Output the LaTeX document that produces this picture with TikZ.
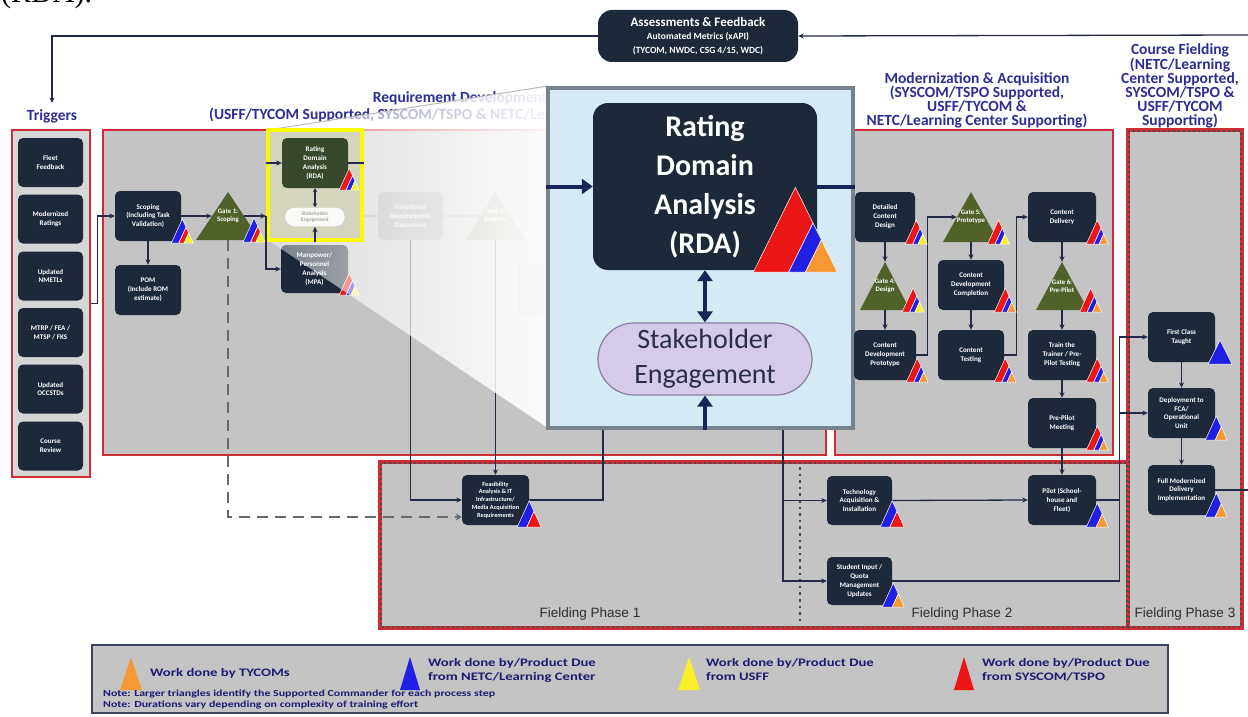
\documentclass[tikz,border=0pt]{standalone}
\usepackage{fontspec}
\setmainfont{Carlito}
\newfontfamily\arialf{Liberation Sans}
\newfontfamily\timesf{Liberation Serif}
\newfontfamily\legA[FakeStretch=1.28]{Carlito}
\usetikzlibrary{arrows.meta,calc,fadings}

\definecolor{navy}{RGB}{29,40,56}
\definecolor{olivef}{RGB}{80,97,42}
\definecolor{olivefade}{RGB}{150,158,128}
\definecolor{rdaolive}{RGB}{55,72,44}
\definecolor{hdrc}{RGB}{44,46,150}
\definecolor{redb}{RGB}{205,45,55}
\definecolor{grayf}{RGB}{196,196,196}
\definecolor{linec}{RGB}{35,42,72}
\definecolor{panelc}{RGB}{214,234,246}
\definecolor{panelb}{RGB}{120,130,140}
\definecolor{lav}{RGB}{214,202,234}
\definecolor{lavb}{RGB}{135,125,165}
\definecolor{skc}{RGB}{40,44,78}
\definecolor{bigarr}{RGB}{22,38,88}
\definecolor{dotc}{RGB}{70,76,70}
\definecolor{dashc}{RGB}{100,106,116}
\definecolor{legc}{RGB}{28,28,112}
\definecolor{legb}{RGB}{60,70,95}
\definecolor{triR}{RGB}{236,22,22}
\definecolor{triB}{RGB}{32,32,228}
\definecolor{triO}{RGB}{246,152,52}
\definecolor{triY}{RGB}{250,238,40}
\definecolor{ybord}{RGB}{250,250,0}
\definecolor{yfill}{RGB}{212,213,188}
\definecolor{fadenode}{RGB}{160,162,168}
\definecolor{phasec}{RGB}{45,45,45}

\tikzfading[name=zoomfade, left color=transparent!60, right color=transparent!5]

% stripe sets for the commander triangles (colour/start/end along the base)
\newcommand\stRBO{triR/0/0.34,triB/0.34/0.58,triO/0.58/1}
\newcommand\stRBY{triR/0/0.34,triB/0.34/0.58,triY/0.58/1}
\newcommand\stBRY{triB/0/0.34,triR/0.34/0.58,triY/0.58/1}
\newcommand\stBO{triB/0/0.45,triO/0.45/1}
\newcommand\stBR{triB/0/0.4,triR/0.4/1}
\newcommand\stB{triB/0/1}
\newcommand\stBig{triR/0/0.42,triB/0.42/0.62,triO/0.62/1}

% striped triangle at the lower right corner of a node
% [#1 shift of base start, as fraction of width] #2 node, #3 width, #4 height factor, #5 stripes
\newcommand\stri[5][0.45]{%
  \path ($(#2.south east)+({-(#1)*#3},2)$) coordinate (tA) ++(#3,0) coordinate (tB)
        ($(tA)!0.5!(tB)+(0,{-(#4)*#3})$) coordinate (tC);
  \foreach \scol/\pA/\pB [evaluate=\pA as \qA using 1-\pA,
                          evaluate=\pB as \qB using 1-\pB] in #5
    {\filldraw[fill=\scol, draw=white, line width=0.5pt]
      ($(tA)!\pA!(tB)$) -- ($(tA)!\pB!(tB)$) -- ($(tB)!\qB!(tC)$) -- ($(tB)!\qA!(tC)$) -- cycle;}%
}

% decision gate: triangle plus a text node whose sides touch the triangle at mid height
% [#1 colour] #2 name, #3 cx, #4 cy, #5 base width, #6 height, #7 text
\newcommand\gate[7][olivef]{%
  \fill[#1] ({#3-#5/2},{#4+#6/2}) -- (#3,{#4-#6/2}) -- ({#3+#5/2},{#4+#6/2}) -- cycle;
  \node[gatetxt, minimum width={#5/2}, minimum height={#6}] (#2) at (#3,#4) {#7};%
}

% dotted band laid over the red outline of a fielding frame
\newcommand\dotband[1]{%
  \draw[dotc, line width=2.4pt, dash pattern=on 2.4pt off 2.6pt]
    ([shift={(1,1)}]#1.north west) rectangle ([shift={(-1,-1)}]#1.south east);%
}

\begin{document}
\begin{tikzpicture}[x=1pt,y=-1pt,
  navybox/.style={rectangle, rounded corners=5pt, fill=navy, text=white, align=center,
    font=\bfseries\fontsize{7.1}{8.9}\selectfont, minimum width=66pt, minimum height=50pt, inner sep=1pt},
  fadebox/.style={navybox, fill=fadenode, text=white!85!fadenode},
  gatetxt/.style={rectangle, inner sep=0pt, text=white, align=center,
    font=\bfseries\fontsize{6.8}{8.4}\selectfont},
  hdr/.style={text=hdrc, align=center, inner sep=0pt, font=\bfseries\fontsize{15.5}{14}\selectfont},
  redframe/.style={rectangle, draw=redb, line width=2.5pt, fill=grayf},
  fieldframe/.style={rectangle, draw=redb, line width=4.5pt, fill=grayf, outer sep=0pt},
  conn/.style={draw=linec, line width=1.3pt, -{Stealth[length=5.5pt,width=5pt]}},
  plainline/.style={draw=linec, line width=1.3pt},
  dblconn/.style={draw=linec, line width=1.3pt,
    {Stealth[length=4pt,width=4.5pt]}-{Stealth[length=4pt,width=4.5pt]}},
  dashconn/.style={draw=dashc, line width=2.6pt, dash pattern=on 11pt off 7pt,
    -{Stealth[length=6pt,width=7pt]}},
  fadeconn/.style={draw=fadenode, line width=1.3pt},
  phase/.style={font=\arialf\fontsize{13.5}{14}\selectfont, text=phasec, inner sep=0pt},
  bigarrow/.style={draw=bigarr, line width=4pt, -{Triangle[length=11pt,width=15pt]}},
  bigline/.style={draw=bigarr, line width=4pt},
  bigdbl/.style={draw=bigarr, line width=4pt,
    {Triangle[length=11pt,width=15pt]}-{Triangle[length=11pt,width=15pt]}},
  legtxt/.style={anchor=west, inner sep=0pt, align=left, text=legc,
    font=\legA\bfseries\fontsize{11.5}{14}\selectfont},
  legnote/.style={anchor=west, inner sep=0pt, text=legc,
    font=\legA\bfseries\fontsize{9.3}{10}\selectfont}
]
\useasboundingbox (0,0) rectangle (1248,717);
\fill[white] (0,0) rectangle (1248,717);

% caption fragment running off the top edge
\node[anchor=base west, inner sep=0pt, font=\timesf\fontsize{30}{30}\selectfont] (cap) at (1,3) {(RDA).};

% ---------------- feedback loop ----------------
\node[rectangle, rounded corners=14pt, fill=navy, text=white, align=center,
      font=\bfseries\fontsize{9.5}{13.5}\selectfont, minimum width=200pt, minimum height=52pt, inner sep=2pt]
  (ae) at (698,36) {{\fontsize{13}{13}\selectfont Assessments \& Feedback}\\Automated Metrics (xAPI)\\(TYCOM, NWDC, CSG 4/15, WDC)};

\node[hdr] (trighdr) at (52,116) {Triggers};
\coordinate (fbR) at (1248,35);
\draw[conn] (fbR) -- (ae.east);
\draw[conn, shorten >=6pt] (ae.west) -| (trighdr.north);

% ---------------- headers ----------------
\begin{scope}
  \clip (150,80) rectangle (548,128);
  \node[hdr] (reqhdr) at (460,106.5) {Requirement Development\\[3pt](USFF/TYCOM Supported, SYSCOM/TSPO \& NETC/Learning Center Supporting)};
\end{scope}
\node[hdr] (modhdr) at (977,100) {Modernization \& Acquisition\\(SYSCOM/TSPO Supported,\\USFF/TYCOM \&\\NETC/Learning Center Supporting)};
\node[hdr] (cfhdr) at (1180,86) {Course Fielding\\(NETC/Learning\\Center Supported,\\SYSCOM/TSPO \&\\USFF/TYCOM\\Supporting)};

% ---------------- frames ----------------
\node[redframe, fill=grayf!70!white, minimum width=78pt, minimum height=347pt] (trigframe) at (51,303.5) {};
\node[redframe, minimum width=723pt, minimum height=325pt] (reqframe) at (464.5,292.5) {};
\node[redframe, minimum width=278pt, minimum height=325pt] (modframe) at (974,292.5) {};
\node[fieldframe, minimum width=748pt, minimum height=166pt] (fieldA) at (754,545) {};
\node[fieldframe, minimum width=114pt, minimum height=498pt] (fieldB) at (1185,379) {};
\dotband{fieldA}
\dotband{fieldB}
\draw[dotc, line width=2.6pt, dash pattern=on 2.6pt off 4pt] (800,467) -- (800,625);

\node[phase] (fp1) at (590,614) {Fielding Phase 1};
\node[phase] (fp2) at (962,614) {Fielding Phase 2};
\node[phase] (fp3) at (1185,614) {Fielding Phase 3};

% ---------------- triggers ----------------
\node[navybox, minimum width=65pt, minimum height=49pt] (trig1) at (50.5,162.5) {Fleet\\Feedback};
\node[navybox, minimum width=65pt, minimum height=49pt] (trig2) at (50.5,219) {Modernized\\Ratings};
\node[navybox, minimum width=65pt, minimum height=49pt] (trig3) at (50.5,276) {Updated\\NMETLs};
\node[navybox, minimum width=65pt, minimum height=49pt] (trig4) at (50.5,332.5) {MTRP / FEA /\\MTSP / FKS};
\node[navybox, minimum width=65pt, minimum height=49pt] (trig5) at (50.5,389) {Updated\\OCCSTDs};
\node[navybox, minimum width=65pt, minimum height=49pt] (trig6) at (50.5,446) {Course\\Review};

% ---------------- requirement development ----------------
\node[navybox] (scop) at (148,216) {Scoping\\(Including Task\\Validation)};
\node[navybox] (pom) at (148,290) {POM\\(Include ROM\\estimate)};
\gate{g1}{228}{216}{64}{48}{Gate 1:\\Scoping}
\node[navybox, minimum width=67pt, minimum height=48pt] (mpa) at (314.5,269) {Manpower/\\Personnel\\Analysis\\(MPA)};

\node[fadebox, minimum width=65pt, minimum height=48pt] (frd) at (410.5,216) {Functional\\Requirements\\Document};
\gate[olivefade]{g2}{495.5}{216}{60}{48}{Gate 2:\\Analysis}
\node[fadebox, minimum width=62pt] (fb3) at (548,290) {};

\node[navybox, minimum width=67pt, minimum height=50pt, font=\bfseries\fontsize{6.3}{7.8}\selectfont]
  (feas) at (495.5,500) {Feasibility\\Analysis \& IT\\Infrastructure/\\Media Acquisition\\Requirements};

\coordinate (yR) at (364,216);
\coordinate (pL) at (548,216);
\coordinate (pA) at (603,428);
\coordinate (pB) at (783,428);

\draw[conn] (trigframe.east) -- ++(6,0) |- (scop.west);
\draw[conn] (scop.east) -- (g1.west);
\draw[conn] (scop.south) -- (pom.north);
\draw[dashconn] (g1.south) |- ([yshift=-17pt]feas.west);
\draw[fadeconn] (yR) -- (frd.west);
\draw[fadeconn] (frd.east) -- (g2.west);
\draw[fadeconn] (g2.east) -- (pL);
\draw[conn] (frd.south) |- (feas.west);
\draw[conn] (g2.south) -- (feas.north);
\draw[plainline] (feas.east) -| (pA);
\stri{scop}{22}{1.1}{\stBRY}
\stri[0.05]{g1}{22}{1.1}{\stBRY}
\stri{mpa}{20}{1.1}{\stRBY}
\stri[0.5]{feas}{24}{1.1}{\stBR}

% zoom projection towards the enlarged view
\fill[white, path fading=zoomfade] (268,130) -- (548,86) -- (548,428) -- (268,240) -- cycle;
\draw[gray!55, line width=1pt] (268,130) -- (548,86);

% highlighted step
\node[rectangle, draw=ybord, line width=4pt, fill=yfill, minimum width=94pt, minimum height=110pt] (ybox) at (315,185) {};
\node[navybox, fill=rdaolive] (rdas) at (315,163) {Rating\\Domain\\Analysis\\(RDA)};
\node[rectangle, rounded corners=9pt, minimum width=60pt, minimum height=19pt, inner sep=0pt,
      fill=white!88!yfill, draw=gray!40, text=gray!70, align=center,
      font=\bfseries\fontsize{5.4}{6.2}\selectfont] (sks) at (315,217) {Stakeholder\\Engagement};
\draw[conn] (g1.east) -- (ybox.west |- g1.east);
\draw[conn] (ybox.west |- g1.east) |- (mpa.west);
\draw[conn] (ybox.west |- rdas.west) -- (rdas.west);
\draw[plainline] (rdas.east) -- (ybox.east |- rdas.east);
\draw[dblconn] (rdas.south) -- (sks.north);
\draw[conn] (ybox.south -| sks.south) -- (sks.south);
\stri{rdas}{20}{1.1}{\stRBY}

% ---------------- fielding phase 1/2 links from the enlarged view ----------------
\node[navybox, minimum width=65pt, minimum height=49pt] (tech) at (859.5,500.5) {Technology\\Acquisition \&\\Installation};
\node[navybox, minimum width=65pt, minimum height=48pt] (stud) at (859.5,581) {Student Input /\\Quota\\Management\\Updates};
\draw[conn] (pB) |- (tech.west);
\draw[conn] (pB) |- (stud.west);

% ---------------- enlarged view ----------------
\node[rectangle, fill=panelc, draw=panelb, line width=3.5pt, minimum width=305pt, minimum height=340pt] (panel) at (700.5,258) {};
\node[rectangle, rounded corners=15pt, fill=navy, text=white, align=center, minimum width=224pt, minimum height=167pt,
      font=\bfseries\fontsize{30}{39}\selectfont] (rdab) at (705,186.5) {Rating\\Domain\\Analysis\\(RDA)};
\node[rectangle, rounded corners=36pt, fill=lav, draw=lavb, line width=1.2pt, text=skc, align=center,
      minimum width=214pt, minimum height=72pt, font=\fontsize{28}{35}\selectfont] (skb) at (705,359) {Stakeholder\\Engagement};
\draw[bigarrow] (panel.west |- rdab.west) -- (rdab.west);
\draw[bigline] (rdab.east) -- (panel.east |- rdab.east);
\draw[bigdbl] (rdab.south) -- (skb.north);
\draw[bigarrow] (panel.south -| skb.south) -- (skb.south);
\stri[0.76]{rdab}{84}{1.01}{\stBig}

% ---------------- modernization & acquisition ----------------
\node[navybox, minimum width=60pt] (dcd) at (885,217) {Detailed\\Content\\Design};
\gate{g4}{885}{286}{50}{48}{Gate 4:\\Design}
\node[navybox, minimum width=62pt] (cdp) at (885,355) {Content\\Development\\Prototype};
\gate{g5}{971}{217}{56}{50}{Gate 5:\\Prototype}
\node[navybox] (cdc) at (971,285) {Content\\Development\\Completion};
\node[navybox] (ct) at (971,355) {Content\\Testing};
\node[navybox, minimum width=68pt] (cdel) at (1062,217) {Content\\Delivery};
\gate{g6}{1062}{286}{52}{48}{Gate 6:\\Pre-Pilot};
\node[navybox, minimum width=68pt] (ttt) at (1062,355) {Train the\\Trainer / Pre-\\Pilot Testing};
\node[navybox, minimum width=68pt] (ppm) at (1062,423) {Pre-Pilot\\Meeting};

\draw[conn] (dcd.south) -- (g4.north);
\draw[conn] (g4.south) -- (cdp.north);
\draw[conn] (cdp.east) -- ++(11,0) |- (g5.west);
\draw[conn] (g5.south) -- (cdc.north);
\draw[conn] (cdc.south) -- (ct.north);
\draw[conn] (ct.east) -- ++(12,0) |- (cdel.west);
\draw[conn] (cdel.south) -- (g6.north);
\draw[conn] (g6.south) -- (ttt.north);
\draw[conn] (ttt.south) -- (ppm.north);
\stri{dcd}{22}{1.1}{\stRBY}
\stri[-0.2]{g4}{22}{1.1}{\stRBY}
\stri{cdp}{22}{1.1}{\stRBO}
\stri[-0.1]{g5}{22}{1.1}{\stRBY}
\stri{cdc}{22}{1.1}{\stRBO}
\stri{ct}{22}{1.1}{\stRBO}
\stri{cdel}{22}{1.1}{\stRBO}
\stri[-0.2]{g6}{22}{1.1}{\stRBO}
\stri{ttt}{22}{1.1}{\stRBO}
\stri{ppm}{22}{1.1}{\stRBO}

% ---------------- fielding ----------------
\node[navybox, minimum width=68pt] (pilot) at (1062,500) {Pilot (School-\\house and\\Fleet)};
\node[navybox, minimum width=67pt] (fct) at (1181.5,337) {First Class\\Taught};
\node[navybox, minimum width=67pt] (dep) at (1181.5,413) {Deployment to\\FCA/\\Operational\\Unit};
\node[navybox, minimum width=67pt] (fmd) at (1181.5,490) {Full Modernized\\Delivery\\Implementation};
\coordinate (bus) at ([xshift=-28pt]fct.west);
\coordinate (redge) at (1248,490);

\draw[conn] (ppm.south) -- (pilot.north);
\draw[conn] (tech.east) -- (pilot.west);
\draw[conn] (stud.east) -| (bus) -- (fct.west);
\draw[plainline] (pilot.east) -- (bus |- pilot.east);
\draw[conn] (bus |- dep.west) -- (dep.west);
\draw[conn] (fct.south) -- (dep.north);
\draw[conn] (dep.south) -- (fmd.north);
\draw[plainline] (fmd.east) -- (redge);
\stri[0.5]{tech}{24}{1.1}{\stBR}
\stri{stud}{22}{1.1}{\stBO}
\stri{pilot}{22}{1.1}{\stBO}
\stri[0.3]{fct}{24}{1.0}{\stB}
\stri{dep}{22}{1.1}{\stBO}
\stri{fmd}{22}{1.1}{\stBO}

% ---------------- legend ----------------
\node[rectangle, fill=grayf, draw=legb, line width=2pt, minimum width=1076pt, minimum height=68pt] (legend) at (630,679) {};
\fill[triO] (120,690) -- (131,657) -- (142,690) -- cycle;
\fill[triB] (400,690) -- (410,657) -- (420,690) -- cycle;
\fill[triY] (678,690) -- (689,657) -- (700,690) -- cycle;
\fill[triR] (954,690) -- (964,657) -- (974,690) -- cycle;
\node[legtxt] (lg1) at (150,673) {Work done by TYCOMs};
\node[legtxt] (lg2) at (428,670) {Work done by/Product Due\\from NETC/Learning Center};
\node[legtxt] (lg3) at (706,670) {Work done by/Product Due\\from USFF};
\node[legtxt] (lg4) at (982,670) {Work done by/Product Due\\from SYSCOM/TSPO};
\node[legnote] (ln1) at (103,694) {Note: Larger triangles identify the Supported Commander for each process step};
\node[legnote] (ln2) at (103,705.5) {Note: Durations vary depending on complexity of training effort};
\end{tikzpicture}
\end{document}
